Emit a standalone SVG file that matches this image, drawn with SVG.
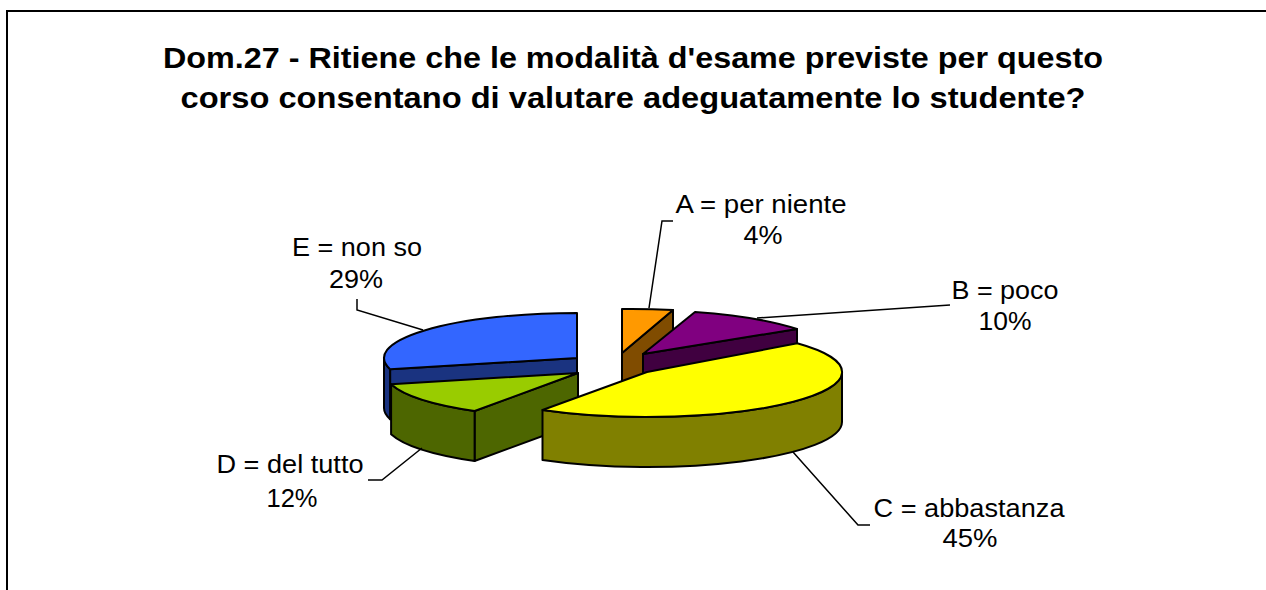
<svg xmlns="http://www.w3.org/2000/svg" width="1266" height="590" viewBox="0 0 1266 590">
<style>
.bg{fill:#ffffff}
.frame{fill:none;stroke:#000;stroke-width:2}
.title{font-family:"Liberation Sans",Arial,sans-serif;font-weight:bold;font-size:29px;fill:#000}
.lbl{font-family:"Liberation Sans",Arial,sans-serif;font-size:25px;fill:#000}
.s{stroke:#000;stroke-width:2;stroke-linejoin:round}
.lead{fill:none;stroke:#000;stroke-width:1.5}
</style>
<rect class="bg" x="0" y="0" width="1266" height="590"/>
<path class="frame" d="M7,590 V11 H1266"/>
<g id="title">
<text class="title" x="633" y="68" text-anchor="middle" textLength="940" lengthAdjust="spacingAndGlyphs">Dom.27 - Ritiene che le modalità d'esame previste per questo</text>
<text class="title" x="633" y="108" text-anchor="middle" textLength="905" lengthAdjust="spacingAndGlyphs">corso consentano di valutare adeguatamente lo studente?</text>
</g>
<g id="slice-E">
<path class="s" fill="#1A3380" d="M577,358 L390.1,369.2 V419.2 L577,408 Z"/>
<path class="s" fill="#1A3380" d="M384,358 A193,45 0 0,0 390.1,369.2 L390.1,419.2 A193,45 0 0,1 384,408 Z"/>
<path class="s" fill="#3366FF" d="M577,358 L577,313 A193,45 0 0,0 390.1,369.2 Z"/>
</g>
<g id="slice-A">
<path class="s" fill="#804C00" d="M622,353 L673,310 V360 L622,403 Z"/>
<path class="s" fill="#FF9900" d="M622,353 L622,309 A193,45 0 0,1 673,310 Z"/>
</g>
<g id="slice-B">
<path class="s" fill="#400040" d="M643,354 L797,329 V379 L643,404 Z"/>
<path class="s" fill="#800080" d="M643,354 L695,312 A195,45 0 0,1 797,329 Z"/>
</g>
<g id="slice-D">
<path class="s" fill="#4D6600" d="M578,373 L474.6,411 V461 L578,423 Z"/>
<path class="s" fill="#4D6600" d="M391.1,384.2 A193,45 0 0,0 474.6,411 L474.6,461 A193,45 0 0,1 391.1,434.2 Z"/>
<path class="s" fill="#99CC00" d="M578,373 L391.1,384.2 A193,45 0 0,0 474.6,411 Z"/>
</g>
<g id="slice-C">
<path class="s" fill="#808000" d="M542.5,410 A195,45 0 0,0 842,372 L842,422 A195,45 0 0,1 542.5,460 Z"/>
<path class="s" fill="#FFFF00" d="M647,372 L797.2,343.3 A195,45 0 0,1 542.5,410 Z"/>
</g>
<g id="connectors">
<polyline class="lead" points="673,221 662,221 649,308"/>
<polyline class="lead" points="950,305 757,318"/>
<polyline class="lead" points="870,525 858,525 793,452"/>
<polyline class="lead" points="368,480 382,480 422,448"/>
<polyline class="lead" points="357,299 357,310 423,330"/>
</g>
<g id="label-A">
<text class="lbl" x="761" y="213" text-anchor="middle" textLength="171" lengthAdjust="spacingAndGlyphs">A = per niente</text>
<text class="lbl" x="763" y="244" text-anchor="middle" textLength="39" lengthAdjust="spacingAndGlyphs">4%</text>
</g>
<g id="label-B">
<text class="lbl" x="1005" y="299" text-anchor="middle" textLength="107" lengthAdjust="spacingAndGlyphs">B = poco</text>
<text class="lbl" x="1005" y="330" text-anchor="middle" textLength="53" lengthAdjust="spacingAndGlyphs">10%</text>
</g>
<g id="label-C">
<text class="lbl" x="969" y="517" text-anchor="middle" textLength="191" lengthAdjust="spacingAndGlyphs">C = abbastanza</text>
<text class="lbl" x="970" y="547" text-anchor="middle" textLength="55" lengthAdjust="spacingAndGlyphs">45%</text>
</g>
<g id="label-D">
<text class="lbl" x="290" y="473" text-anchor="middle" textLength="147" lengthAdjust="spacingAndGlyphs">D = del tutto</text>
<text class="lbl" x="292" y="507" text-anchor="middle" textLength="51" lengthAdjust="spacingAndGlyphs">12%</text>
</g>
<g id="label-E">
<text class="lbl" x="357" y="256" text-anchor="middle" textLength="130" lengthAdjust="spacingAndGlyphs">E = non so</text>
<text class="lbl" x="356" y="288" text-anchor="middle" textLength="54" lengthAdjust="spacingAndGlyphs">29%</text>
</g>
</svg>
